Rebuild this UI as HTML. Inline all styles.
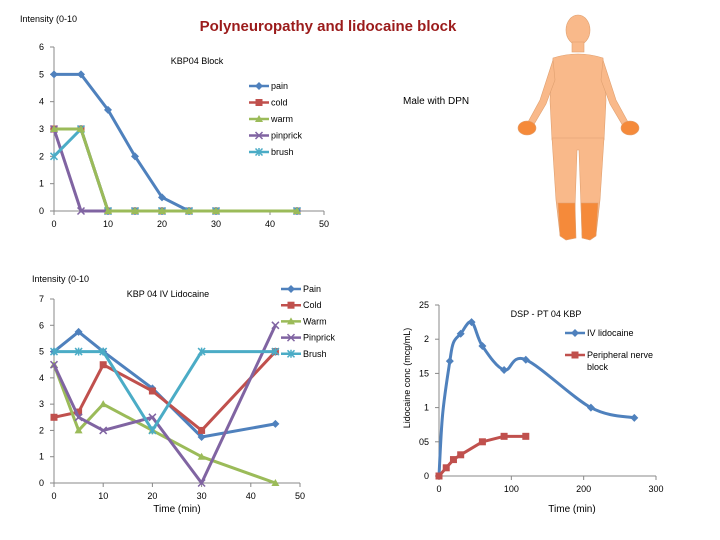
<!DOCTYPE html>
<html><head><meta charset="utf-8"><style>
body{margin:0;background:#fff;}
svg{display:block;font-family:"Liberation Sans",sans-serif;}
</style></head><body>
<svg id="s" width="720" height="540" xmlns="http://www.w3.org/2000/svg">
<text x="20" y="22" font-size="9">Intensity (0-10</text>
<text x="328" y="31" font-size="15" font-weight="bold" fill="#9B1B1B" text-anchor="middle">Polyneuropathy and lidocaine block</text>
<text x="197" y="64" font-size="9" text-anchor="middle">KBP04 Block</text>
<text x="403" y="104" font-size="10">Male with DPN</text>
<text x="32" y="282" font-size="9">Intensity (0-10</text>
<text x="168" y="297" font-size="9" text-anchor="middle">KBP 04 IV Lidocaine</text>
<text x="177" y="512" font-size="10" text-anchor="middle">Time (min)</text>
<text x="546" y="317" font-size="9" text-anchor="middle">DSP - PT 04 KBP</text>
<text x="572" y="512" font-size="10" text-anchor="middle">Time (min)</text>
<text transform="translate(410,378) rotate(-90)" font-size="9" text-anchor="middle">Lidocaine conc (mcg/mL)</text>
<g fill="#F9B98A" stroke="#E0A070" stroke-width="0.6">
<ellipse cx="578" cy="30" rx="12" ry="15"/>
<rect x="572" y="42" width="12" height="10"/>
<path d="M553 58 Q578 50 603 58 L606 100 L604 140 L552 140 L550 100 Z"/>
<path d="M553 60 L540 100 L528 122 L533 126 L546 104 L555 80 Z"/>
<path d="M603 60 L616 100 L628 122 L623 126 L610 104 L601 80 Z"/>
<path d="M552 138 L604 138 L600 200 L596 235 L582 235 L579 150 L577 150 L574 235 L560 235 L556 200 Z"/>
<ellipse cx="527" cy="128" rx="9" ry="7" fill="#F58A3A"/>
<ellipse cx="630" cy="128" rx="9" ry="7" fill="#F58A3A"/>
<path d="M558 203 L575 203 L576 238 L566 240 L560 236 Z" fill="#F58A3A"/>
<path d="M581 203 L598 203 L596 236 L590 240 L582 238 Z" fill="#F58A3A"/>
</g>
<g id="g"></g>
</svg>
<script>
// Top chart data
const topX=[0,5,10,15,20,25,30,45];
const topPain=[5,5,3.7,2,0.5,0,0,0];
const topCold=[3,3,0,0,0,0,0,0];
const topWarm=[3,3,0,0,0,0,0,0];
const topPin=[3,0,0,0,0,0,0,0];
const topBrush=[2,3,0,0,0,0,0,0];
const topXTicks=[0,10,20,30,40,50];
const topYTicks=[0,1,2,3,4,5,6];
// Bottom-left data
const blX=[0,5,10,20,30,45];
const blPain=[5,5.75,5,3.6,1.75,2.25];
const blCold=[2.5,2.7,4.5,3.5,2,5];
const blWarm=[4.5,2,3,2,1,0];
const blPin=[4.5,2.5,2,2.5,0,6];
const blBrush=[5,5,5,2,5,5];
const blXTicks=[0,10,20,30,40,50];
const blYTicks=[0,1,2,3,4,5,6,7];
// Bottom-right data
const ivX=[0,5,15,20,30,45,60,90,120,210,270];
const ivY=[0,0.9,1.68,1.95,2.08,2.25,1.9,1.55,1.7,1.0,0.85];
const pnX=[0,10,20,30,60,90,120];
const pnY=[0,0.12,0.24,0.31,0.5,0.58,0.58];
const brXTicks=[0,100,200,300];
const brYTicks=[0,0.5,1,1.5,2,2.5];
const brYLabels=["0","05","1","15","2","25"];

const NS="http://www.w3.org/2000/svg";
const G=document.getElementById('g');
function el(t,a,p){const e=document.createElementNS(NS,t);for(const k in a)e.setAttribute(k,a[k]);(p||G).appendChild(e);return e;}
const C={pain:"#4F81BD",cold:"#C0504D",warm:"#9BBB59",pin:"#8064A2",brush:"#4BACC6"};

function marker(g,type,x,y,c){
  let m;
  if(type==='d')m=el('path',{d:`M${x} ${y-4}L${x+4} ${y}L${x} ${y+4}L${x-4} ${y}Z`,fill:c},g);
  else if(type==='s')m=el('rect',{x:x-3.5,y:y-3.5,width:7,height:7,fill:c},g);
  else if(type==='t')m=el('path',{d:`M${x} ${y-4}L${x+4} ${y+3}L${x-4} ${y+3}Z`,fill:c},g);
  else if(type==='x')m=el('path',{d:`M${x-3.5} ${y-3.5}L${x+3.5} ${y+3.5}M${x+3.5} ${y-3.5}L${x-3.5} ${y+3.5}`,stroke:c,'stroke-width':1.5},g);
  else m=el('path',{d:`M${x-3.5} ${y-3.5}L${x+3.5} ${y+3.5}M${x+3.5} ${y-3.5}L${x-3.5} ${y+3.5}M${x} ${y-4}V${y+4}`,stroke:c,'stroke-width':1.5},g);
  
  
}
function axes(name,x0,x1,y0,y1,xmin,xmax,ymin,ymax,xt,yt,ylab){
  const sx=v=>x0+(v-xmin)/(xmax-xmin)*(x1-x0);
  const sy=v=>y0-(v-ymin)/(ymax-ymin)*(y0-y1);
  const g=el('g',{});
  
  
  el('line',{x1:x0,y1:y0,x2:x1,y2:y0,stroke:'#888','stroke-width':1},g);
  el('line',{x1:x0,y1:y0,x2:x0,y2:y1,stroke:'#888','stroke-width':1},g);
  xt.forEach(v=>{el('line',{x1:sx(v),y1:y0,x2:sx(v),y2:y0+4,stroke:'#888'},g);
    const t=el('text',{x:sx(v),y:y0+16,'font-size':9,'text-anchor':'middle'},g);t.textContent=v;
    });
  yt.forEach((v,i)=>{el('line',{x1:x0-4,y1:sy(v),x2:x0,y2:sy(v),stroke:'#888'},g);
    const t=el('text',{x:x0-10,y:sy(v)+3,'font-size':9,'text-anchor':'end'},g);t.textContent=ylab?ylab[i]:v;
    });
  return {sx,sy};
}
function series(name,ax,xs,ys,c,mk,smooth,mIdx){
  const g=el('g',{});
  
  
  const pts=xs.map((x,i)=>[ax.sx(x),ax.sy(ys[i])]);
  let d='M'+pts[0].join(' ');
  if(smooth){for(let i=0;i<pts.length-1;i++){const p0=pts[Math.max(0,i-1)],p1=pts[i],p2=pts[i+1],p3=pts[Math.min(pts.length-1,i+2)];
    const t=0.17;d+=`C${p1[0]+(p2[0]-p0[0])*t} ${p1[1]+(p2[1]-p0[1])*t} ${p2[0]-(p3[0]-p1[0])*t} ${p2[1]-(p3[1]-p1[1])*t} ${p2[0]} ${p2[1]}`;}}
  else pts.slice(1).forEach(p=>d+='L'+p.join(' '));
  el('path',{d,fill:'none',stroke:c,'stroke-width':3,'stroke-linejoin':'round'},g);
  pts.forEach((p,i)=>{if(!mIdx||mIdx.includes(i))marker(g,mk,p[0],p[1],c);});
}
function legend(name,x,y,label,c,mk,lines){
  const g=el('g',{});
  
  
  el('line',{x1:x,y1:y,x2:x+20,y2:y,stroke:c,'stroke-width':2.5},g);
  marker(g,mk,x+10,y,c);
  lines=lines||[label];
  lines.forEach((l,i)=>{const t=el('text',{x:x+22,y:y+3+i*12,'font-size':9},g);t.textContent=l;});
}
// Top chart
const a1=axes('top',54,324,211,47,0,50,0,6,topXTicks,topYTicks);
series('top-cold-series',a1,topX,topCold,C.cold,'s');
series('top-pain-series',a1,topX,topPain,C.pain,'d');
series('top-pinprick-series',a1,topX,topPin,C.pin,'x');
series('top-brush-series',a1,topX,topBrush,C.brush,'*');
series('top-warm-series',a1,topX,topWarm,C.warm,'t');
[['pain',C.pain,'d'],['cold',C.cold,'s'],['warm',C.warm,'t'],['pinprick',C.pin,'x'],['brush',C.brush,'*']].forEach((l,i)=>legend('top-legend-'+l[0],249,86+i*16.5,l[0],l[1],l[2]));
// Bottom-left
const a2=axes('bl',54,300,483,299,0,50,0,7,blXTicks,blYTicks);
series('bl-pain-series',a2,blX,blPain,C.pain,'d');
series('bl-cold-series',a2,blX,blCold,C.cold,'s');
series('bl-warm-series',a2,blX,blWarm,C.warm,'t');
series('bl-pinprick-series',a2,blX,blPin,C.pin,'x');
series('bl-brush-series',a2,blX,blBrush,C.brush,'*');
[['Pain',C.pain,'d'],['Cold',C.cold,'s'],['Warm',C.warm,'t'],['Pinprick',C.pin,'x'],['Brush',C.brush,'*']].forEach((l,i)=>legend('bl-legend-'+l[0].toLowerCase(),281,289+i*16.2,l[0],l[1],l[2]));
// Bottom-right
const a3=axes('br',439,656,476,305,0,300,0,2.5,brXTicks,brYTicks,brYLabels);
series('br-iv-series',a3,ivX,ivY,C.pain,'d',true,[2,4,5,6,7,8,9,10]);
series('br-nerve-series',a3,pnX,pnY,C.cold,'s');
legend('br-legend-iv',565,333,'IV lidocaine',C.pain,'d');
legend('br-legend-nerve',565,355,'',C.cold,'s',['Peripheral nerve','block']);
</script>
</body></html>
